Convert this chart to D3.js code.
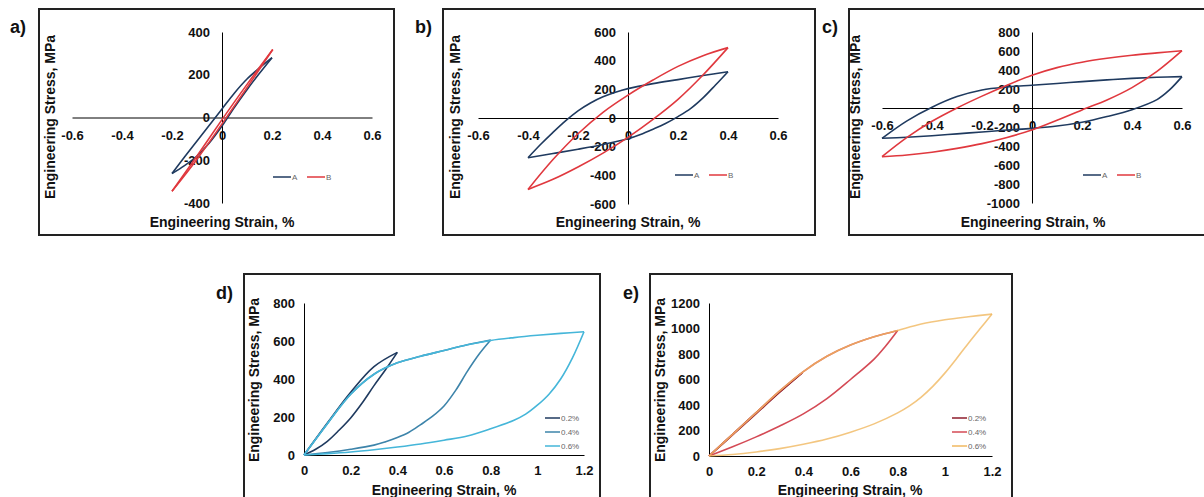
<!DOCTYPE html>
<html>
<head>
<meta charset="utf-8">
<title>Hysteresis loops</title>
<style>
body { margin: 0; background: #fff; }
svg text { font-family: "Liberation Sans", Arial, sans-serif; }
.axis text { font-size: 13px; font-weight: bold; fill: #111; }
.axis path { stroke: #000; stroke-width: 1; }
.title { font-size: 14px; font-weight: bold; fill: #111; }
.plabel { font-size: 18px; font-weight: bold; fill: #111; }
.leg { font-size: 8px; fill: #666; }
.loop { fill: none; stroke-width: 1.6; stroke-linejoin: round; }
</style>
</head>
<body>
<svg id="chart" width="1204" height="497"></svg>

<script src="https://d3js.org/d3.v7.min.js"></script>
<script>

// tick values
var ticksStrainSym = [-0.6, -0.4, -0.2, 0, 0.2, 0.4, 0.6];
var ticksStrainPos = [0, 0.2, 0.4, 0.6, 0.8, 1, 1.2];
var ticksStressA = [-400, -200, 0, 200, 400];
var ticksStressB = [-600, -400, -200, 0, 200, 400, 600];
var ticksStressC = [-1000, -800, -600, -400, -200, 0, 200, 400, 600, 800];
var ticksStressD = [0, 200, 400, 600, 800];
var ticksStressE = [0, 200, 400, 600, 800, 1000, 1200];

// loops: [strain %, stress MPa], loading branch then unloading branch
var aA = [[-0.2,-262],[-0.15,-185],[-0.1,-110],[-0.05,-35],[0,40],[0.05,115],[0.1,180],[0.15,232],[0.2,280],
          [0.15,207],[0.1,130],[0.05,48],[0,-40],[-0.05,-118],[-0.1,-180],[-0.15,-225],[-0.2,-262]];
var aB = [[-0.2,-345],[-0.1,-180],[0,-10],[0.1,155],[0.203,318],
          [0.1,140],[0,-30],[-0.1,-195],[-0.2,-345]];

var bA = [[-0.4,-277],[-0.35,-185],[-0.3,-100],[-0.25,-20],[-0.2,50],[-0.15,105],[-0.1,148],[-0.05,180],[0,205],
          [0.1,240],[0.2,268],[0.3,296],[0.4,323],
          [0.35,230],[0.3,140],[0.25,65],[0.2,10],[0.15,-38],[0.1,-78],[0.05,-115],[0,-145],
          [-0.1,-185],[-0.2,-218],[-0.3,-248],[-0.4,-277]];
var bB = [[-0.4,-498],[-0.3,-290],[-0.2,-110],[-0.1,40],[0,160],[0.1,265],[0.2,360],[0.3,435],[0.4,491],
          [0.3,300],[0.2,130],[0.1,-10],[0,-135],[-0.1,-245],[-0.2,-342],[-0.3,-428],[-0.4,-498]];

var cA = [[-0.6,-319],[-0.5,-135],[-0.4,8],[-0.3,120],[-0.2,190],[-0.1,222],[0,240],[0.1,258],[0.2,278],[0.3,296],[0.4,312],[0.5,323],[0.6,330],
          [0.55,190],[0.5,88],[0.4,-18],[0.3,-90],[0.2,-150],[0.1,-190],[0,-214],[-0.1,-232],[-0.2,-252],[-0.3,-272],[-0.4,-292],[-0.5,-308],[-0.6,-319]];
var cB = [[-0.6,-513],[-0.5,-310],[-0.4,-140],[-0.3,0],[-0.2,125],[-0.1,240],[0,345],[0.1,425],[0.2,482],[0.3,523],[0.4,555],[0.5,580],[0.6,603],
          [0.5,385],[0.4,215],[0.3,85],[0.2,-20],[0.1,-130],[0,-232],[-0.1,-310],[-0.2,-375],[-0.3,-425],[-0.4,-465],[-0.5,-495],[-0.6,-513]];

var d02 = [[0,0],[0.1,168],[0.2,330],[0.3,465],[0.4,540],
           [0.35,450],[0.3,365],[0.25,275],[0.2,195],[0.15,130],[0.1,72],[0.05,30],[0,0]];
var d04 = [[0,0],[0.1,165],[0.2,320],[0.3,425],[0.4,485],[0.5,520],[0.6,550],[0.7,580],[0.8,605],
           [0.75,530],[0.7,440],[0.65,340],[0.6,258],[0.55,203],[0.5,160],[0.45,120],[0.4,92],[0.35,70],[0.3,52],[0.2,30],[0.1,13],[0,0]];
var d06 = [[0,0],[0.1,165],[0.2,320],[0.3,425],[0.4,485],[0.5,520],[0.6,550],[0.7,580],[0.8,603],[0.9,618],[1,630],[1.1,640],[1.2,649],
           [1.15,510],[1.1,400],[1.05,320],[1,262],[0.95,215],[0.9,183],[0.8,138],[0.7,100],[0.6,78],[0.5,58],[0.4,42],[0.3,28],[0.2,16],[0.1,7],[0,0]];

var e02 = [[0,0],[0.1,170],[0.2,340],[0.3,505],[0.395,652],
           [0.3,500],[0.2,332],[0.1,165],[0,0]];
var e04 = [[0,0],[0.1,170],[0.2,340],[0.3,510],[0.4,662],[0.5,782],[0.6,870],[0.7,935],[0.8,985],
           [0.75,865],[0.7,760],[0.6,600],[0.5,450],[0.4,330],[0.3,235],[0.2,150],[0.1,72],[0,0]];
var e06 = [[0,0],[0.1,170],[0.2,340],[0.3,510],[0.4,662],[0.5,782],[0.6,870],[0.7,935],[0.8,985],[0.9,1035],[1,1068],[1.1,1092],[1.2,1113],
           [1.15,1000],[1.1,885],[1.05,765],[1,650],[0.95,548],[0.9,462],[0.85,393],[0.8,338],[0.7,252],[0.6,187],[0.5,133],[0.4,92],[0.3,58],[0.2,32],[0.1,12],[0,0]];

var namesAB = ["A", "B"];
var namesPre = ["0.2%", "0.4%", "0.6%"];

var svg = d3.select("#chart");
svg.append("rect").attr("width", 1204).attr("height", 497).attr("fill", "#fff");

var panels = [
  {lab: "a)", box: [39, 9, 394, 235], lx: [10, 33], xd: [-0.6, 0.6], xr: [72, 372], yd: [-400, 400], yr: [203, 32],
   xt: ticksStrainSym, yt: ticksStressA, data: [aA, aB], names: namesAB, cols: ["#1f3a5f", "#e0383e"],
   xtitle: [222, 227], ytitle: [50, 117], leg: [273, 177, "h"], op: 1},
  {lab: "b)", box: [443, 9, 815, 235], lx: [415, 33], xd: [-0.6, 0.6], xr: [478, 778], yd: [-600, 600], yr: [204, 32],
   xt: ticksStrainSym, yt: ticksStressB, data: [bA, bB], names: namesAB, cols: ["#1f3a5f", "#e0383e"],
   xtitle: [628, 227], ytitle: [455, 117], leg: [675, 175, "h"], op: 1},
  {lab: "c)", box: [849, 9, 1215, 235], lx: [822, 33], xd: [-0.6, 0.6], xr: [882, 1182], yd: [-1000, 800], yr: [203, 32],
   xt: ticksStrainSym, yt: ticksStressC, data: [cA, cB], names: namesAB, cols: ["#1f3a5f", "#e0383e"],
   xtitle: [1033, 227], ytitle: [855, 117], leg: [1083, 175, "h"], op: 1},
  {lab: "d)", box: [244, 274, 600, 505], lx: [216, 299], xd: [0, 1.2], xr: [304, 584], yd: [0, 800], yr: [455, 303],
   xt: ticksStrainPos, yt: ticksStressD, data: [d02, d04, d06], names: namesPre, cols: ["#1f3a5f", "#3d84aa", "#45b6d9"],
   xtitle: [444, 495], ytitle: [254, 380], leg: [545, 418, "v"], op: 1},
  {lab: "e)", box: [650, 274, 1012, 505], lx: [623, 299], xd: [0, 1.2], xr: [709, 992], yd: [0, 1200], yr: [456, 303],
   xt: ticksStrainPos, yt: ticksStressE, data: [e02, e04, e06], names: namesPre, cols: ["#8e1c2c", "#d44a55", "#f0b860"],
   xtitle: [850, 495], ytitle: [660, 380], leg: [952, 418, "v"], op: 0.8}
];

var line = d3.line().curve(d3.curveCatmullRom.alpha(0.5));

panels.forEach(function(p) {
  var g = svg.append("g");

  g.append("rect")
    .attr("x", p.box[0]).attr("y", p.box[1])
    .attr("width", p.box[2] - p.box[0]).attr("height", p.box[3] - p.box[1])
    .attr("fill", "none").attr("stroke", "#222").attr("stroke-width", 2);

  g.append("text").attr("class", "plabel")
    .attr("x", p.lx[0]).attr("y", p.lx[1]).text(p.lab);

  var x = d3.scaleLinear().domain(p.xd).range(p.xr);
  var y = d3.scaleLinear().domain(p.yd).range(p.yr);

  g.append("g").attr("class", "axis")
    .attr("transform", "translate(0," + y(0) + ")")
    .call(d3.axisBottom(x).tickValues(p.xt).tickSize(0).tickPadding(p.yd[0] < 0 ? 13 : 11)
      .tickFormat(function(d) { return String(d); }));

  g.append("g").attr("class", "axis")
    .attr("transform", "translate(" + x(0) + ",0)")
    .call(d3.axisLeft(y).tickValues(p.yt).tickSize(0).tickPadding(p.yd[0] < 0 ? 12 : 9)
      .tickFormat(function(d) { return String(d); }));

  g.selectAll(".axis text").attr("font-family", null);

  g.append("text").attr("class", "title")
    .attr("x", p.xtitle[0]).attr("y", p.xtitle[1])
    .attr("text-anchor", "middle").text("Engineering Strain, %");

  g.append("text").attr("class", "title")
    .attr("transform", "translate(" + p.ytitle[0] + "," + p.ytitle[1] + ") rotate(-90)")
    .attr("dy", "0.35em")
    .attr("text-anchor", "middle").text("Engineering Stress, MPa");

  // loops: split at the max strain point so the tips stay sharp
  p.data.forEach(function(pts, i) {
    var imax = d3.maxIndex(pts, function(d) { return d[0]; });
    var segs = [pts.slice(0, imax + 1), pts.slice(imax)];
    segs.forEach(function(s) {
      g.append("path").attr("class", "loop")
        .attr("stroke", p.cols[i])
        .attr("stroke-opacity", i == p.data.length - 1 ? p.op : 1)
        .attr("d", line(s.map(function(d) { return [x(d[0]), y(d[1])]; })));
    });
  });

  // legend
  p.names.forEach(function(n, i) {
    var lx = p.leg[2] == "h" ? p.leg[0] + i * 34 : p.leg[0];
    var ly = p.leg[2] == "h" ? p.leg[1] : p.leg[1] + i * 14;
    var len = p.leg[2] == "h" ? 18 : 15;
    g.append("line")
      .attr("x1", lx).attr("x2", lx + len).attr("y1", ly).attr("y2", ly)
      .attr("stroke", p.cols[i]).attr("stroke-width", 1.5);
    g.append("text").attr("class", "leg")
      .attr("x", lx + len + 1).attr("y", ly).attr("dy", "0.35em").text(n);
  });
});

</script>
</body>
</html>
